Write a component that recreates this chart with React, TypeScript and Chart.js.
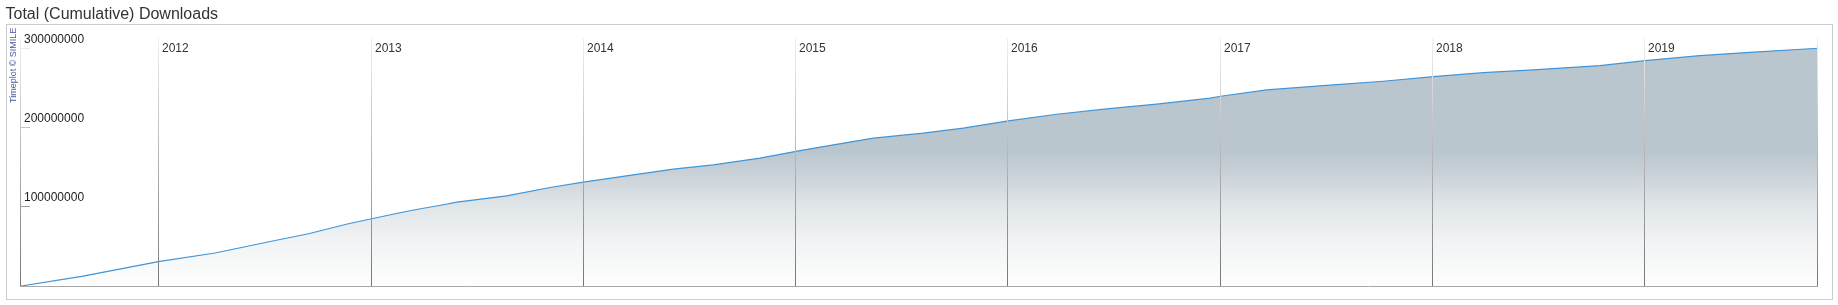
import React, { useEffect, useRef } from "react";
import { Chart, registerables } from "chart.js";

Chart.register(...registerables);

const TITLE = "Total (Cumulative) Downloads";
const CREDIT = "Timeplot © SIMILE";

// decimal years
const dates = [
  2011.353, 2011.639, 2012.0, 2012.267, 2012.55, 2012.707, 2012.895, 2013.005,
  2013.138, 2013.209, 2013.342, 2013.406, 2013.641, 2013.845, 2014.002, 2014.237,
  2014.426, 2014.614, 2014.834, 2015.023, 2015.132, 2015.368, 2015.603, 2015.792,
  2016.004, 2016.232, 2016.467, 2016.703, 2016.954, 2017.004, 2017.221, 2017.535,
  2017.77, 2018.006, 2018.241, 2018.477, 2018.791, 2019.003, 2019.262, 2019.497,
  2019.818,
];

// cumulative downloads, millions
const downloadsMillions = [
  0, 12.2, 30.8, 41.8, 57.7, 66.2, 78.9, 85.2,
  92.8, 96.6, 103.0, 106.2, 114.3, 124.8, 131.6, 140.9,
  148.1, 153.5, 162.0, 171.6, 176.7, 187.3, 193.7, 200.0,
  209.2, 217.7, 224.4, 230.4, 238.0, 240.5, 248.5, 254.8,
  259.5, 265.3, 270.4, 273.8, 279.2, 285.6, 291.9, 296.2,
  301.3,
];

const yearTicks = [2012, 2013, 2014, 2015, 2016, 2017, 2018, 2019];
const yearLabels = ["2012", "2013", "2014", "2015", "2016", "2017", "2018", "2019"];
const yTickValues = [100, 200, 300];
const yTickLabels = ["100000000", "200000000", "300000000"];

const X_MIN = 2011.353;
const X_MAX = 2019.818;
const Y_MAX = 314.3;

const W = 1838;
const H = 305;
const FONT = "'Liberation Sans', Arial, Helvetica, sans-serif";

export default function App() {
  const ref = useRef<HTMLCanvasElement>(null);

  useEffect(() => {
    const canvas = ref.current;
    if (!canvas) return;

    const decor = {
      id: "timeplotDecor",
      beforeDraw(chart: any) {
        const ctx = chart.ctx as CanvasRenderingContext2D;
        ctx.save();
        ctx.fillStyle = "#ffffff";
        ctx.fillRect(0, 0, W, H);
        ctx.strokeStyle = "#cccccc";
        ctx.lineWidth = 1;
        ctx.strokeRect(6.5, 24.5, 1826, 275);
        ctx.font = `16px ${FONT}`;
        ctx.fillStyle = "#333333";
        ctx.textBaseline = "alphabetic";
        ctx.textAlign = "left";
        ctx.fillText(TITLE, 5.5, 18.5);
        ctx.translate(15.5, 103);
        ctx.rotate(-Math.PI / 2);
        ctx.font = `9px ${FONT}`;
        ctx.fillStyle = "#4a5a9e";
        ctx.fillText(CREDIT, 0, 0);
        ctx.restore();
      },
      afterDatasetsDraw(chart: any) {
        const ctx = chart.ctx as CanvasRenderingContext2D;
        const a = chart.chartArea;
        const xs = chart.scales.x;
        const ys = chart.scales.y;
        const g = ctx.createLinearGradient(0, a.top, 0, a.bottom);
        g.addColorStop(0, "#f0f0f0");
        g.addColorStop(1, "#777777");
        ctx.save();
        ctx.lineWidth = 1;
        ctx.strokeStyle = g;
        const vline = (x: number) => {
          ctx.beginPath();
          ctx.moveTo(x, a.top);
          ctx.lineTo(x, a.bottom);
          ctx.stroke();
        };
        yearTicks.forEach((yr) => vline(Math.round(xs.getPixelForValue(yr)) + 0.5));
        vline(Math.floor(a.left) - 0.5);
        vline(Math.floor(a.right) - 0.5);
        yTickValues.forEach((v) => {
          const y = Math.round(ys.getPixelForValue(v)) - 0.5;
          ctx.beginPath();
          ctx.moveTo(a.left - 1, y);
          ctx.lineTo(a.left + 9, y);
          ctx.stroke();
        });
        ctx.strokeStyle = "#a8a8a8";
        ctx.beginPath();
        ctx.moveTo(a.left - 1, Math.round(a.bottom) + 0.5);
        ctx.lineTo(a.right, Math.round(a.bottom) + 0.5);
        ctx.stroke();

        ctx.font = `12px ${FONT}`;
        ctx.textBaseline = "alphabetic";
        ctx.textAlign = "left";
        ctx.fillStyle = "#333333";
        yearTicks.forEach((yr, i) => {
          const x = Math.round(xs.getPixelForValue(yr));
          ctx.fillText(yearLabels[i], x + 4, 52);
        });
        ctx.fillStyle = "#222222";
        yTickValues.forEach((v, i) => {
          const y = ys.getPixelForValue(v);
          ctx.fillText(yTickLabels[i], a.left + 3, y - 6);
        });
        ctx.restore();
      },
    };

    const chart = new Chart(canvas, {
      type: "line",
      data: {
        datasets: [
          {
            data: dates.map((d, i) => ({ x: d, y: downloadsMillions[i] })),
            borderColor: "#3f95d8",
            borderWidth: 1.2,
            pointRadius: 0,
            tension: 0,
            fill: "origin",
            backgroundColor: (c: any) => {
              const ch = c.chart;
              const a = ch.chartArea;
              if (!a) return "#bac6ce";
              const g = ch.ctx.createLinearGradient(0, a.top, 0, a.bottom);
              const f = (y: number) => Math.min(1, Math.max(0, (y - a.top) / (a.bottom - a.top)));
              g.addColorStop(0, "#bac6ce");
              g.addColorStop(f(152), "#bac6ce");
              g.addColorStop(f(175), "#cad2d8");
              g.addColorStop(f(205), "#e0e5e8");
              g.addColorStop(f(240), "#f1f3f4");
              g.addColorStop(1, "#fefefe");
              return g;
            },
          },
        ],
      },
      options: {
        responsive: false,
        animation: false,
        layout: { padding: { left: 21, top: 38, right: 20, bottom: 19 } },
        scales: {
          x: { type: "linear", min: X_MIN, max: X_MAX, display: false },
          y: { type: "linear", min: 0, max: Y_MAX, display: false },
        },
        plugins: {
          legend: { display: false },
          tooltip: { enabled: false },
          title: { display: false },
        },
      },
      plugins: [decor],
    });

    return () => chart.destroy();
  }, []);

  return (
    <div style={{ position: "absolute", left: 0, top: 0, width: W, height: H }}>
      <canvas ref={ref} width={W} height={H} style={{ display: "block", width: W, height: H }} />
    </div>
  );
}
